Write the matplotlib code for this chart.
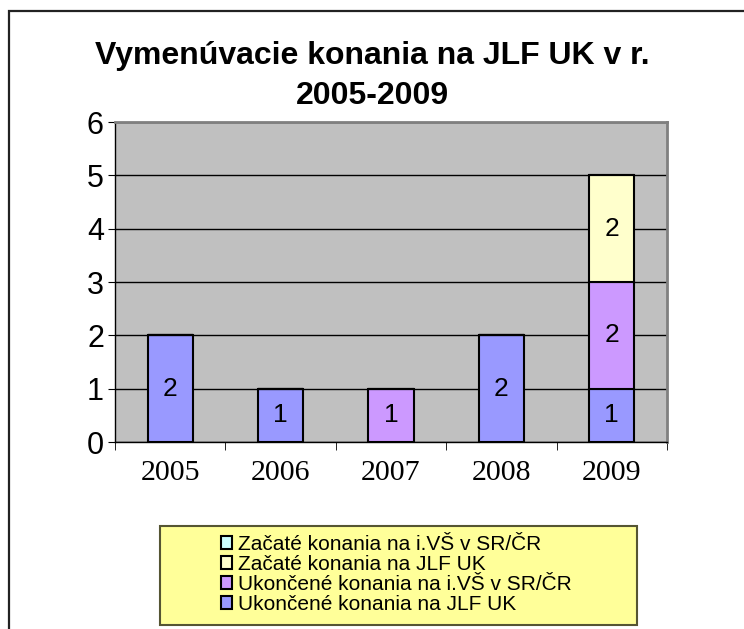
import matplotlib
matplotlib.use("Agg")
import matplotlib.pyplot as plt
from matplotlib.patches import Rectangle
import numpy as np

years = ["2005", "2006", "2007", "2008", "2009"]
# series stacked from bottom to top
series_names = [
    "Ukončené konania na JLF UK",
    "Ukončené konania na i.VŠ v SR/ČR",
    "Začaté konania na JLF UK",
    "Začaté konania na i.VŠ v SR/ČR",
]
ukoncene_jlf = [2, 1, 0, 2, 1]
ukoncene_ivs = [0, 0, 1, 0, 2]
zacate_jlf = [0, 0, 0, 0, 2]
zacate_ivs = [0, 0, 0, 0, 0]
colors = ["#9999FF", "#CC99FF", "#FFFFCC", "#CCFFFF"]

plt.rcParams["font.family"] = ["Liberation Sans", "DejaVu Sans"]

fig = plt.figure(figsize=(7.44, 6.29), dpi=100)
W, H = 744, 629

# outer chart frame (only left/top visible in the crop)
fig.patches.append(Rectangle((9 / W, -0.1), 1.2, (1 - 11 / H) + 0.1,
                             transform=fig.transFigure, fill=False,
                             edgecolor="#222222", lw=1.6))

ax = fig.add_axes([115 / W, 1 - 442 / H, (667 - 115) / W, (442 - 122) / H])
ax.set_facecolor("#C0C0C0")

x = np.arange(len(years))
bottom = np.zeros(len(years))
for name, vals, c in zip(series_names,
                         [ukoncene_jlf, ukoncene_ivs, zacate_jlf, zacate_ivs],
                         colors):
    bars = ax.bar(x, vals, 0.41, bottom=bottom, color=c, edgecolor="black",
                  linewidth=1.5, label=name, zorder=3)
    ax.bar_label(bars, labels=[str(v) if v else "" for v in vals],
                 label_type="center", fontsize=19, zorder=4)
    bottom += np.array(vals)

ax.set_xlim(-0.5, len(years) - 0.5)
ax.set_ylim(0, 6)
ax.set_yticks(range(7))
ax.tick_params(axis="y", labelsize=22, length=5, direction="out", pad=3)
ax.set_xticks(x)
ax.set_xticklabels(years, fontsize=21.5, family=["Liberation Serif", "DejaVu Serif"])
ax.tick_params(axis="x", which="major", length=0, pad=13)
ax.set_xticks(np.arange(-0.5, len(years)), minor=True)
ax.tick_params(axis="x", which="minor", length=6, direction="out")
ax.yaxis.grid(True, color="black", lw=1)
ax.set_axisbelow(True)
for s in ("top", "right"):
    ax.spines[s].set_color("#808080")
    ax.spines[s].set_linewidth(2)
for s in ("left", "bottom"):
    ax.spines[s].set_color("black")
    ax.spines[s].set_linewidth(1)

fig.text(0.5, 1 - 76 / H, "Vymenúvacie konania na JLF UK v r.\n2005-2009",
         ha="center", va="center", fontsize=23, fontweight="bold",
         linespacing=1.45)

# legend box
fig.patches.append(Rectangle((160 / W, 1 - 625 / H), (637 - 160) / W, (625 - 526) / H,
                             transform=fig.transFigure, facecolor="#FFFF99",
                             edgecolor="#555533", lw=1.5, zorder=1))
h, l = ax.get_legend_handles_labels()
leg = fig.legend(h[::-1], l[::-1], loc="upper left",
                 bbox_to_anchor=(221 / W, 1 - 535 / H), frameon=False,
                 fontsize=15, handlelength=0.55, handleheight=0.55,
                 handletextpad=0.25, labelspacing=0.05, borderpad=0,
                 borderaxespad=0)
leg.set_zorder(2)

fig.savefig("out.png", dpi=100)
